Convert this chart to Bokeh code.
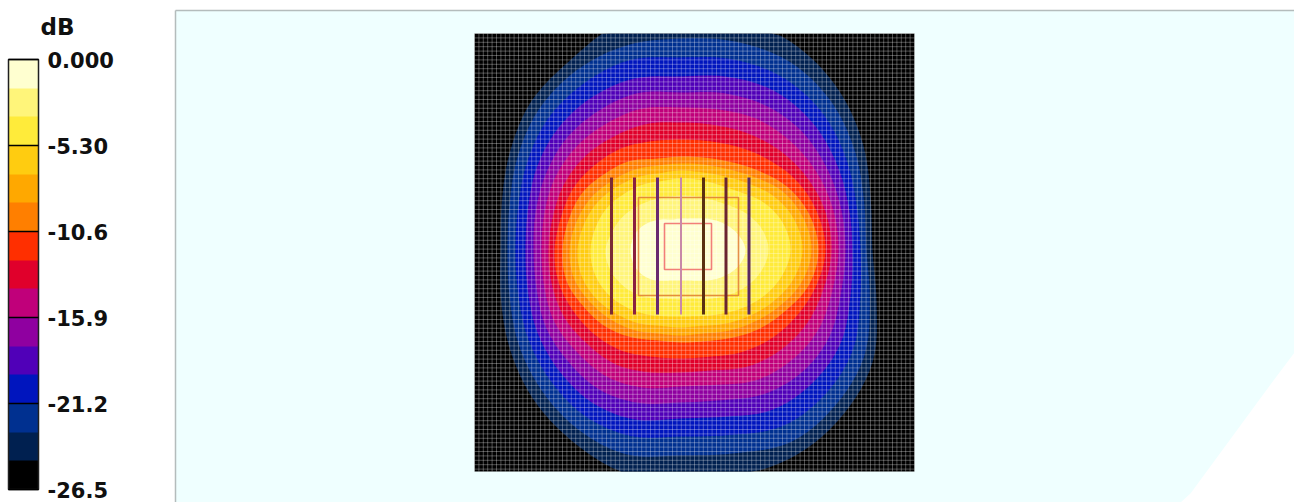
import numpy as np
from bokeh.core.properties import value
from bokeh.embed import file_html
from bokeh.models import AllLabels, ColorBar, FixedTicker, LinearColorMapper, Range1d
from bokeh.plotting import figure
from bokeh.resources import INLINE

# dB colour scale, top (0 dB) to bottom (-26.5 dB)
palette_top_down = ["#FFFFD0", "#FFF57A", "#FFEB3A", "#FFCC10", "#FFA800", "#FF7F00", "#FF2F00", "#E0002B",
                    "#C0007A", "#8F00A0", "#5000B8", "#0015BE", "#003090", "#002050", "#000000"]
tick_values = [0.0, -5.3, -10.6, -15.9, -21.2, -26.5]
tick_labels = ["0.000", "-5.30", "-10.6", "-15.9", "-21.2", "-26.5"]

angles_deg = list(range(0, 360, 15))
c00 = [192,197,211,225,235,239,240,235,220,211,197,185,180,186,197,209,219,229,232,233,235,231,222,203]
c01 = [186,190,201,212,218,216,212,212,208,200,188,177,173,177,187,197,206,211,205,210,221,219,212,196]
c02 = [180,182,190,198,201,198,193,197,193,187,177,168,165,168,176,184,191,192,186,191,203,204,199,186]
c03 = [172,174,179,184,185,180,174,178,177,173,166,158,155,158,165,171,176,175,168,172,184,187,185,176]
c04 = [165,166,168,170,168,163,158,163,162,160,155,150,147,149,155,158,161,158,152,155,166,172,172,166]
c05 = [158,158,157,155,152,146,143,147,147,147,145,141,139,141,145,145,146,142,136,139,150,156,159,157]
c06 = [151,150,146,141,135,130,128,131,132,134,134,132,132,133,134,132,131,126,122,124,134,141,146,148]
c07 = [145,142,136,127,119,113,111,113,118,121,124,124,126,126,123,120,116,110,108,110,118,126,133,140]
c08 = [138,134,125,112,102,96,94,95,103,108,114,116,118,118,112,107,100,93,92,94,101,111,121,133]
c09 = [131,127,118,104,94,89,87,88,93,98,104,108,111,110,104,98,92,86,85,86,93,102,113,125]
c10 = [122,118,108,95,86,81,80,80,85,90,96,100,103,102,97,90,84,78,77,78,85,94,105,116]
c11 = [110,106,96,83,76,73,72,72,76,80,85,88,90,89,85,79,73,68,66,68,74,83,94,104]
c12 = [88,84,75,65,59,56,55,55,58,62,67,71,75,73,68,62,55,50,49,50,56,64,74,83]
c13 = [65,60,52,44,37,33,32,32,36,41,46,49,50,49,46,41,35,31,30,31,35,42,51,60]
contours = [c00, c01, c02, c03, c04, c05, c06, c07, c08, c09, c10, c11, c12, c13]

# array elements and nested boxes
element_x = [611, 634, 657, 680.5, 703, 725.5, 748.5]
element_colors = ["#7A2A35", "#8A2040", "#6A2A70", "#C888A8", "#5A3010", "#6A2530", "#5A2A60"]
element_widths = [3, 3, 3, 2, 3, 3, 3]
element_top, element_bottom = 177, 314
box_left = [638, 664]
box_right = [738, 711]
box_top = [197, 223]
box_bottom = [295, 269]
box_colors = ["#E07A30", "#F06868"]
corner_x = [1294, 1273, 1190, 1180, 1294]
corner_y = [352, 380, 493, 502, 502]

map_left, map_right, map_top, map_bottom = 474, 914, 33, 471
center_x, center_y = 680, 250
mesh_step = 4.4


def smooth_outline(radii, steps=6):
    """Draw a closed contour as a rounded curve through its read radii (Catmull-Rom)."""
    r = np.array(radii, dtype=float)
    n = len(r)
    out_r, out_t = [], []
    for i in range(n):
        p0, p1, p2, p3 = r[(i - 1) % n], r[i], r[(i + 1) % n], r[(i + 2) % n]
        for s in np.arange(steps) / steps:
            out_r.append(0.5 * (2 * p1 + (p2 - p0) * s + (2 * p0 - 5 * p1 + 4 * p2 - p3) * s ** 2
                                + (3 * p1 - p0 - 3 * p2 + p3) * s ** 3))
            out_t.append(np.deg2rad(angles_deg[i] + 15 * s))
    return np.array(out_r), np.array(out_t)


p = figure(width=1294, height=502, output_backend="svg", toolbar_location=None,
           x_range=Range1d(0, 1294), y_range=Range1d(502, 0), min_border=0,
           x_axis_location=None, y_axis_location=None, outline_line_color=None,
           background_fill_color="#FFFFFF", border_fill_color="#FFFFFF")
p.xgrid.visible = False
p.ygrid.visible = False

# panel
p.quad(left=[175], right=[1294], top=[10], bottom=[502], fill_color="#EFFFFF", line_color=None)
p.patch(corner_x, corner_y, fill_color="#FFFFFF", line_color=None)
p.segment(x0=[175, 175], y0=[10, 10], x1=[1294, 175], y1=[10, 502], line_color="#B4BCBC", line_width=1.5)

# field
p.quad(left=[map_left], right=[map_right], top=[map_top], bottom=[map_bottom], fill_color="#000000", line_color=None)
for radii, col in zip(contours, palette_top_down[-2::-1]):
    r, t = smooth_outline(radii)
    p.patch(np.clip(center_x + r * np.cos(t), map_left, map_right),
            np.clip(center_y - r * np.sin(t), map_top, map_bottom), fill_color=col, line_color=None)

# measurement mesh
mx = np.arange(map_left, map_right + 0.1, mesh_step)
my = np.arange(map_top, map_bottom + 0.1, mesh_step)
p.multi_line([[x, x] for x in mx] + [[map_left, map_right] for _ in my],
             [[map_top, map_bottom] for _ in mx] + [[y, y] for y in my],
             line_color="#FFFFFF", line_alpha=0.3, line_width=1)

# geometry
p.quad(left=box_left, right=box_right, top=box_top, bottom=box_bottom, fill_color=None,
       line_color=box_colors, line_width=1.6, line_alpha=0.85)
p.segment(x0=element_x, x1=element_x, y0=[element_top] * 7, y1=[element_bottom] * 7,
          line_color=element_colors, line_width=element_widths)

# colour scale
mapper = LinearColorMapper(palette=palette_top_down[::-1], low=-26.5, high=0)
cb = ColorBar(color_mapper=mapper, ticker=FixedTicker(ticks=tick_values),
              major_label_overrides=dict(zip(tick_values, tick_labels)), major_label_policy=AllLabels(),
              location=(8, 13), width=30, height=430, padding=0, margin=0,
              bar_line_color="#202020", bar_line_width=1.5,
              major_tick_line_color="#000000", major_tick_line_width=1.5, major_tick_in=30, major_tick_out=0,
              minor_tick_line_color=None, label_standoff=9,
              major_label_text_font="DejaVu Sans", major_label_text_font_style="bold",
              major_label_text_font_size="21px", major_label_text_color="#101010",
              background_fill_color=None, border_line_color=None)
p.add_layout(cb, "center")
p.text(x=[40], y=[26], text=["dB"], text_font=value("DejaVu Sans"), text_font_style="bold",
       text_font_size="23px", text_color="#101010", text_baseline="middle", text_align="left")

open("out.html", "w").write(file_html(p, INLINE))
